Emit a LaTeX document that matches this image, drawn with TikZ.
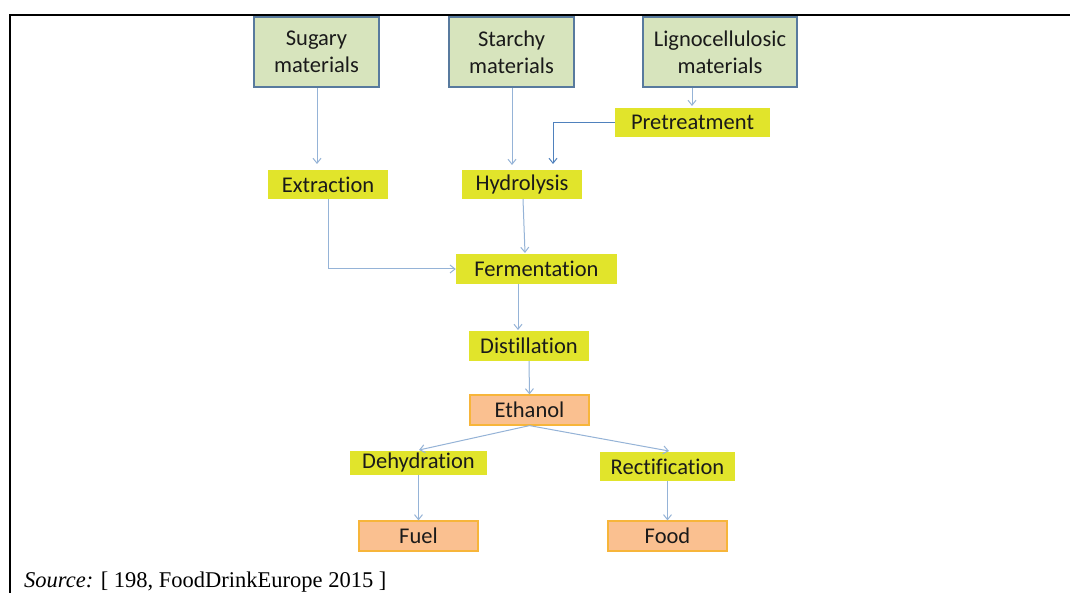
\documentclass[tikz,border=0pt]{standalone}
\usepackage{fontspec}
\setmainfont{Liberation Serif}
\newfontfamily\boxfont[Ligatures=NoCommon]{Carlito}
\usetikzlibrary{arrows.meta}
\definecolor{srcfill}{HTML}{D7E4BD}
\definecolor{srcborder}{HTML}{587A9E}
\definecolor{stepfill}{HTML}{E1E42B}
\definecolor{prodfill}{HTML}{FAC090}
\definecolor{prodborder}{HTML}{F7B53A}
\definecolor{arrowc}{HTML}{95B3D7}
\definecolor{arrowd}{HTML}{4F81BD}
\definecolor{txt}{HTML}{1A1A1A}
\tikzset{
  srcbox/.style={draw=srcborder, line width=1.8pt, fill=srcfill, inner sep=0pt,
    align=center, text=txt, font=\boxfont\fontsize{22.5}{27}\selectfont},
  stepbox/.style={fill=stepfill, inner sep=0pt, text=txt,
    font=\boxfont\fontsize{22.5}{24}\selectfont},
  prodbox/.style={draw=prodborder, line width=1.2pt, fill=prodfill, inner sep=0pt, text=txt,
    font=\boxfont\fontsize{22.5}{24}\selectfont},
  conn/.style={draw=arrowc, line width=1pt, -{Straight Barb[length=5pt,width=8pt]}},
}
\begin{document}
\begin{tikzpicture}[x=1pt,y=-1pt]
\useasboundingbox (0,0) rectangle (1070,593);
\clip (0,0) rectangle (1070,593);
\fill[white] (0,0) rectangle (1070,593);
% frame
\draw[line width=2.6pt] (10,700) -- (10,15) -- (1080,15);

% sources
\node[srcbox, minimum width=125pt, minimum height=70pt] (sug) at (316.5,52) {Sugary\\materials};
\node[srcbox, minimum width=125pt, minimum height=70pt] (sta) at (511.5,52) {Starchy\\materials};
\node[srcbox, minimum width=154pt, minimum height=70pt] (lig) at (720,52) {Lignocellulosic\\materials};

% steps
\node[stepbox, minimum width=155pt, minimum height=29pt] (pre) at (692.5,122.5) {Pretreatment};
\node[stepbox, minimum width=120pt, minimum height=29pt] (ext) at (328,184.5) {Extraction};
\node[stepbox, minimum width=120pt, minimum height=29pt] (hyd) at (522,184.5) {Hydrolysis};
\node[stepbox, minimum width=161pt, minimum height=30pt] (fer) at (536.5,269) {Fermentation};
\node[stepbox, minimum width=120pt, minimum height=30pt] (dis) at (529,346) {Distillation};
\node[prodbox, minimum width=119pt, minimum height=30pt] (eth) at (529.5,410) {Ethanol};
\node[stepbox, minimum width=137pt, minimum height=24pt] (deh) at (418.5,462.5) {Dehydration};
\node[stepbox, minimum width=135pt, minimum height=29pt] (rec) at (667.5,466.5) {Rectification};
\node[prodbox, minimum width=119pt, minimum height=30pt] (fue) at (418.5,536) {Fuel};
\node[prodbox, minimum width=119pt, minimum height=30pt] (foo) at (667.5,536) {Food};

% connectors
\coordinate (sugE) at (317,164);
\draw[conn] (sug.south -| sugE) -- (sugE);
\coordinate (staE) at (512,165);
\draw[conn] (sta.south -| staE) -- (staE);
\coordinate (ligE) at (692,106);
\draw[conn] (lig.south -| ligE) -- (ligE);
\coordinate (preB) at (553,122.5);
\coordinate (preE) at (553,164);
\draw[conn, draw=arrowd] (pre.west) -- (preB) -- (preE);
\coordinate (extB) at (328,269);
\draw[conn] (ext.south) -- (extB) -- (fer.west);
\coordinate (hydS) at (523,199);
\coordinate (ferN) at (525,253);
\draw[conn] (hydS) -- (ferN);
\coordinate (ferS) at (518,284);
\coordinate (disN) at (518,330);
\draw[conn] (ferS) -- (disN);
\draw[conn] (dis.south) -- (eth.north);
\coordinate (dehN) at (419,450);
\coordinate (recN) at (669,451);
\draw[conn] (eth.south) -- (dehN);
\draw[conn] (eth.south) -- (recN);
\draw[conn] (deh.south) -- (fue.north);
\draw[conn] (rec.south) -- (foo.north);

% caption
\node[anchor=base west, inner sep=0pt, font=\fontsize{22.5}{26}\selectfont] (cap) at (24,587) {\textit{Source:} [ 198, FoodDrinkEurope 2015 ]};
\end{tikzpicture}
\end{document}
